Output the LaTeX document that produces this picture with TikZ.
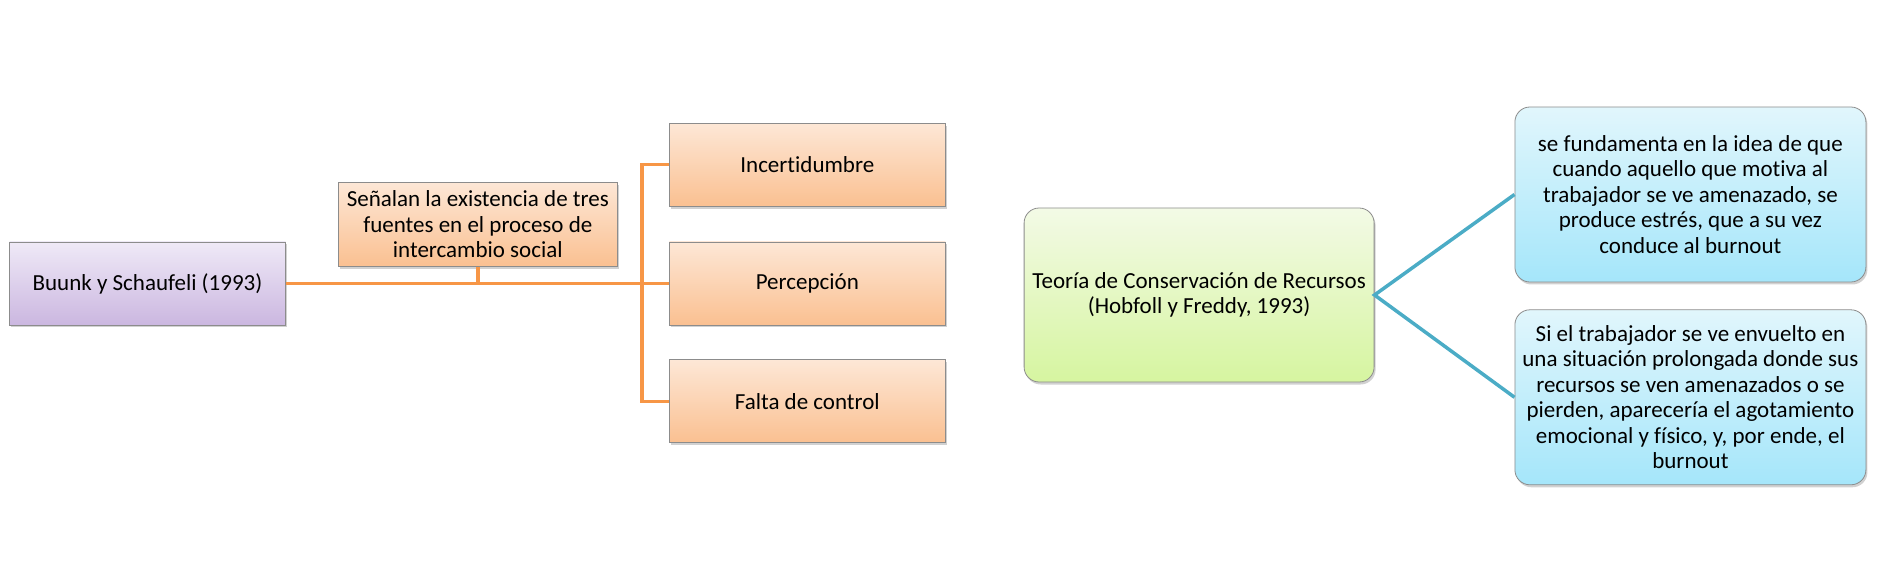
\documentclass[tikz,border=0pt]{standalone}
\usepackage{fontspec}
\setmainfont{Carlito}[Ligatures={NoCommon}]
\usetikzlibrary{positioning,shadows}

\definecolor{lineorange}{HTML}{F79646}
\definecolor{lineteal}{HTML}{4BACC6}
\definecolor{edgegray}{HTML}{8C8C8C}
\definecolor{purpletop}{HTML}{EFE9F7}
\definecolor{purplebot}{HTML}{CBB7E0}
\definecolor{orangetop}{HTML}{FDE7D6}
\definecolor{orangebot}{HTML}{FAC091}
\definecolor{greentop}{HTML}{F3FAE6}
\definecolor{greenbot}{HTML}{D6F5A0}
\definecolor{bluetop}{HTML}{E1F6FC}
\definecolor{bluebot}{HTML}{A5E6FA}

\begin{document}
\begin{tikzpicture}[x=1pt, y=1pt, font=\fontsize{23}{25.5}\selectfont,
  box/.style={draw=edgegray, line width=0.8pt, align=center, inner sep=3pt, minimum width=276pt, minimum height=83pt, drop shadow={shadow xshift=1.5pt, shadow yshift=-2.5pt, opacity=0.3, fill=black!60}},
  purplebox/.style={box, top color=purpletop, bottom color=purplebot},
  orangebox/.style={box, top color=orangetop, bottom color=orangebot},
  greenbox/.style={box, rounded corners=15pt, top color=greentop, bottom color=greenbot, minimum width=350pt, minimum height=174pt},
  bluebox/.style={box, rounded corners=15pt, top color=bluetop, bottom color=bluebot, minimum width=351pt, minimum height=175pt},
  orangelink/.style={draw=lineorange, line width=3.5pt},
  teallink/.style={draw=lineteal, line width=3.5pt}]
\useasboundingbox (0,0) rectangle (1885,-569);
\node[purplebox](buunk) at (147.5,-283.5) {Buunk y Schaufeli (1993)};
\node[orangebox, minimum width=279pt, minimum height=84pt, above right=-25pt and 52pt of buunk](senalan){Señalan la existencia de tres\\fuentes en el proceso de\\intercambio social};
\node[orangebox, right=383pt of buunk](percep){Percepción};
\node[orangebox, above=35pt of percep](incert){Incertidumbre};
\node[orangebox, below=34pt of percep](falta){Falta de control};
\coordinate[left=27pt of percep.west](bus);
\node[greenbox, right=78pt of percep, yshift=-11.5pt](teoria){Teoría de Conservación de Recursos\\(Hobfoll y Freddy, 1993)};
\node[bluebox, right=140pt of teoria, yshift=100.5pt](fund){se fundamenta en la idea de que\\cuando aquello que motiva al\\trabajador se ve amenazado, se\\produce estrés, que a su vez\\conduce al burnout};
\node[bluebox, below=27pt of fund](si){Si el trabajador se ve envuelto en\\una situación prolongada donde sus\\recursos se ven amenazados o se\\pierden, aparecería el agotamiento\\emocional y físico, y, por ende, el\\burnout};
% orange tree
\draw[orangelink] (buunk.east) -- (percep.west);
\draw[orangelink] (senalan.south) -- (senalan.south |- buunk.east);
\draw[orangelink] (incert.west) -| (bus) |- (falta.west);
% teal fork
\draw[teallink] (fund.west) -- (teoria.east) -- (si.west);
\end{tikzpicture}
\end{document}
